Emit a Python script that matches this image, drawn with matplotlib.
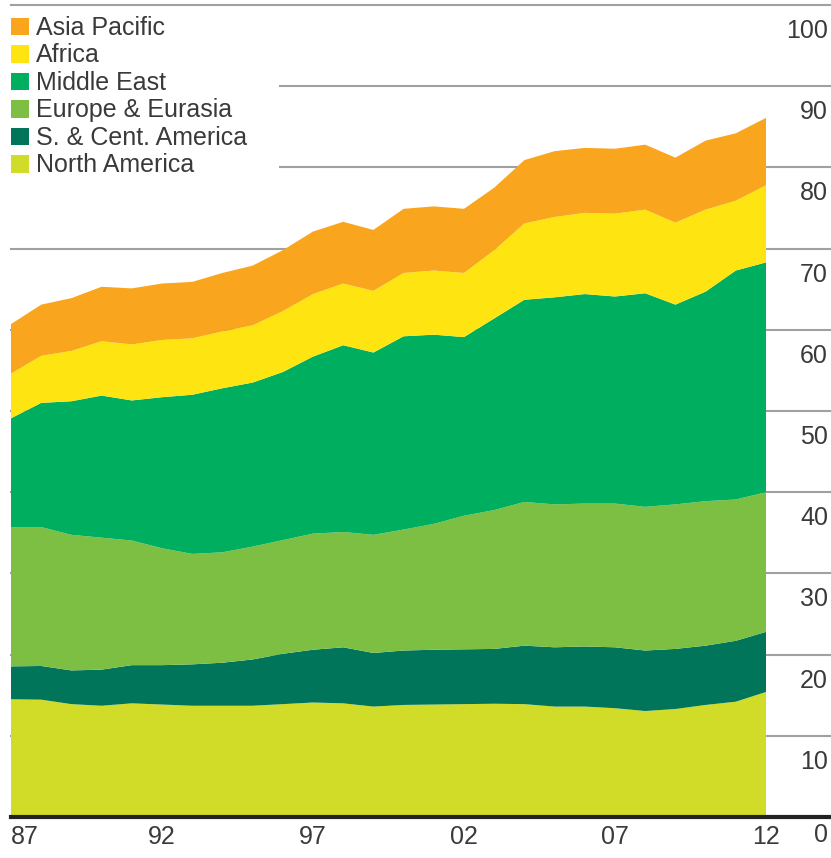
import matplotlib
matplotlib.use("Agg")
import matplotlib.pyplot as plt
import matplotlib.transforms as mtransforms
from matplotlib.patches import Rectangle

years = list(range(1987, 2013))

north_america = [14.5, 14.45, 13.9, 13.7, 14.0, 13.85, 13.7, 13.7, 13.7, 13.9, 14.1, 14.0, 13.6,
                 13.8, 13.85, 13.9, 13.95, 13.9, 13.6, 13.6, 13.4, 13.05, 13.3, 13.8, 14.2, 15.4]
s_cent_america = [4.05, 4.15, 4.15, 4.45, 4.7, 4.85, 5.1, 5.3, 5.7, 6.2, 6.5, 6.9, 6.6,
                  6.7, 6.75, 6.75, 6.75, 7.2, 7.3, 7.4, 7.5, 7.45, 7.4, 7.3, 7.5, 7.4]
europe_eurasia = [17.15, 17.1, 16.7, 16.25, 15.35, 14.4, 13.6, 13.6, 13.9, 14.0, 14.3, 14.2, 14.55,
                  14.9, 15.5, 16.45, 17.1, 17.7, 17.6, 17.6, 17.7, 17.7, 17.8, 17.8, 17.4, 17.2]
middle_east = [13.4, 15.3, 16.45, 17.5, 17.25, 18.6, 19.6, 20.2, 20.2, 20.7, 21.8, 23.0, 22.45,
               23.8, 23.3, 22.0, 23.6, 24.9, 25.5, 25.8, 25.5, 26.3, 24.6, 25.8, 28.2, 28.3]
africa = [5.5, 5.8, 6.2, 6.7, 6.9, 7.05, 6.95, 7.0, 7.05, 7.5, 7.7, 7.6, 7.6,
          7.8, 7.9, 7.9, 8.4, 9.4, 9.9, 10.0, 10.2, 10.3, 10.1, 10.1, 8.6, 9.5]
asia_pacific = [6.1, 6.3, 6.5, 6.7, 6.9, 6.95, 6.95, 7.2, 7.35, 7.5, 7.7, 7.6, 7.5,
                7.9, 7.9, 7.9, 7.7, 7.8, 8.1, 8.0, 8.0, 8.0, 8.0, 8.5, 8.3, 8.3]

regions = ["North America", "S. & Cent. America", "Europe & Eurasia",
           "Middle East", "Africa", "Asia Pacific"]
colors = ["#d1dc28", "#00755a", "#7cbf43", "#00ae5f", "#fee512", "#f9a51d"]

y_ticks = [0, 10, 20, 30, 40, 50, 60, 70, 80, 90, 100]
x_ticks = [1987, 1992, 1997, 2002, 2007, 2012]
x_labels = ["87", "92", "97", "02", "07", "12"]

plt.rcParams["font.family"] = ["Liberation Sans", "DejaVu Sans"]
text_col = "#3a3a3a"
fs = 18

fig = plt.figure(figsize=(8.31, 8.58), dpi=100)
W, H = 831, 858
ax = fig.add_axes([11 / W, (H - 817) / H, 1 - 11 / W, (817 - 5) / H])

ax.stackplot(years, north_america, s_cent_america, europe_eurasia, middle_east,
             africa, asia_pacific, colors=colors, labels=regions, zorder=2, linewidth=0)

ax.set_xlim(1987, 1987 + (W - 11) / 30.2)
ax.set_ylim(0, 100)

# gridlines
for v in y_ticks[1:]:
    ax.axhline(v, color="#a0a0a0", lw=1.5, zorder=1, clip_on=False)
ax.axhline(0, color="#222222", lw=3, zorder=4, clip_on=False)

# white box behind legend hides gridlines
ax.add_patch(Rectangle((0, (H - 178) / H), 279 / W, 166 / H,
                       transform=fig.transFigure, facecolor="white",
                       edgecolor="none", zorder=3, clip_on=False))

# right-side value labels below each gridline
blend = mtransforms.blended_transform_factory(ax.transAxes, ax.transData)
for v in y_ticks:
    shift = 18 if v == 0 else 26
    trans = blend + mtransforms.ScaledTranslation(0, -shift / 100, fig.dpi_scale_trans)
    ax.text(817 / 820, v, str(v), transform=trans, ha="right", va="center",
            fontsize=fs, color=text_col, clip_on=False)

ax.set_xticks(x_ticks)
ax.set_xticklabels(x_labels, fontsize=fs, color=text_col)
ax.get_xticklabels()[0].set_ha("left")
ax.tick_params(axis="x", length=0, pad=6)
ax.set_yticks([])
for s in ax.spines.values():
    s.set_visible(False)

h, l = ax.get_legend_handles_labels()
leg = ax.legend(h[::-1], l[::-1], loc="upper left", bbox_to_anchor=(11 / W, (H - 16) / H),
                bbox_transform=fig.transFigure, frameon=False, fontsize=fs,
                handlelength=0.7, handleheight=0.7, handletextpad=0.3,
                labelspacing=0.14, borderpad=0, borderaxespad=0)
for t in leg.get_texts():
    t.set_color(text_col)
leg.set_zorder(5)

fig.savefig("out.png", dpi=100)
